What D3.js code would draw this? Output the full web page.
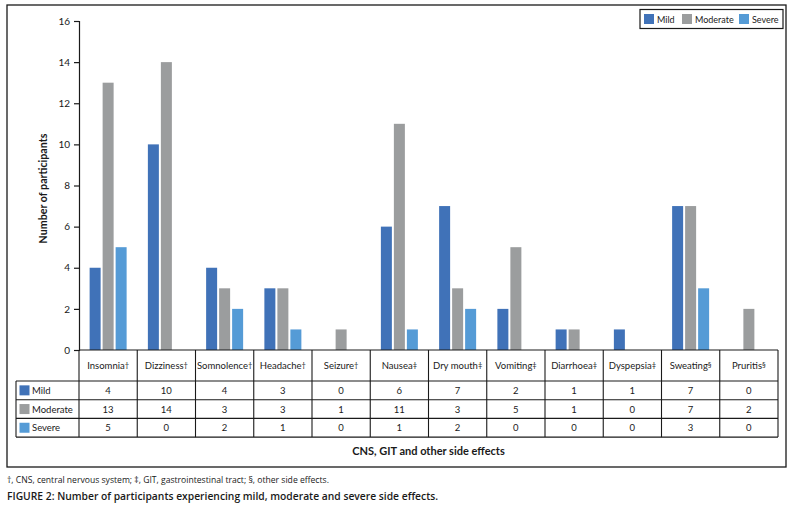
<!DOCTYPE html>
<html lang="en">
<head>
<meta charset="UTF-8">
<title>Side effects</title>
<script src="https://cdnjs.cloudflare.com/ajax/libs/d3/7.9.0/d3.min.js"></script>
<style>
  body { margin: 0; background: #fff; }
  svg { font-family: Lato, "Open Sans", sans-serif; }
</style>
</head>
<body>
<div id="chart"></div>
<script>
const categories = ["Insomnia", "Dizziness", "Somnolence", "Headache", "Seizure", "Nausea",
    "Dry mouth", "Vomiting", "Diarrhoea", "Dyspepsia", "Sweating", "Pruritis"];
const marks = ["†", "†", "†", "†", "†", "‡", "‡", "‡", "‡", "‡", "§", "§"];
const mild = [4, 10, 4, 3, 0, 6, 7, 2, 1, 1, 7, 0];
const moderate = [13, 14, 3, 3, 1, 11, 3, 5, 1, 0, 7, 2];
const severe = [5, 0, 2, 1, 0, 1, 2, 0, 0, 0, 3, 0];
const seriesNames = ["Mild", "Moderate", "Severe"];
const yTicks = [0, 2, 4, 6, 8, 10, 12, 14, 16];

const colors = { Mild: "#4072b8", Moderate: "#9b9d9e", Severe: "#559bd6" };
const series = [
    { name: "Mild", values: mild },
    { name: "Moderate", values: moderate },
    { name: "Severe", values: severe }
];

const W = 792, H = 508;
const plotLeft = 79, plotRight = 778, plotTop = 21, plotBottom = 350;
const ink = "#1a1a1a";

const svg = d3.select("#chart").append("svg")
    .attr("width", W).attr("height", H);

// outer frame
svg.append("rect")
    .attr("x", 7).attr("y", 5).attr("width", 779).attr("height", 462)
    .attr("fill", "none").attr("stroke", ink).attr("stroke-width", 1.3);

const x = d3.scaleBand().domain(categories).range([plotLeft, plotRight]);
const inner = d3.scaleBand().domain(seriesNames).range([-18.5, 18.5]).paddingInner(2 / 13);
const y = d3.scaleLinear().domain([0, 16]).range([plotBottom, plotTop]);

// bars
series.forEach(s => {
    svg.append("g").selectAll("rect")
        .data(categories.map((c, i) => ({ c, v: s.values[i] })))
        .enter().append("rect")
        .attr("x", d => x(d.c) + x.bandwidth() / 2 + inner(s.name))
        .attr("y", d => y(d.v))
        .attr("width", inner.bandwidth())
        .attr("height", d => y(0) - y(d.v))
        .attr("fill", colors[s.name]);
});

// y axis
const yAxis = svg.append("g")
    .attr("transform", `translate(${plotLeft},0)`)
    .call(d3.axisLeft(y).tickValues(yTicks).tickSize(5).tickPadding(4));
yAxis.select(".domain").attr("stroke", ink).attr("stroke-width", 1.2);
yAxis.selectAll(".tick line").attr("stroke", ink).attr("stroke-width", 1.2);
yAxis.selectAll("text").attr("fill", ink).style("font-size", "10px").style("font-family", "Lato, sans-serif");

svg.append("text")
    .attr("transform", `translate(46.5,${(plotTop + plotBottom) / 2 + 3}) rotate(-90)`)
    .attr("text-anchor", "middle")
    .attr("fill", ink)
    .style("font-size", "10.7px").style("font-weight", "bold")
    .text("Number of participants");

// data table
const rowTop = 381, rowH = 18.7, tableLeft = 16;
const tableBottom = rowTop + rowH * 3;
const grid = svg.append("g").attr("stroke", ink).attr("stroke-width", 1.1);

grid.append("line").attr("x1", plotLeft).attr("x2", plotRight).attr("y1", plotBottom).attr("y2", plotBottom);
[0, 1, 2, 3].forEach(r => {
    grid.append("line")
        .attr("x1", tableLeft).attr("x2", plotRight)
        .attr("y1", rowTop + r * rowH).attr("y2", rowTop + r * rowH);
});
grid.append("line").attr("x1", tableLeft).attr("x2", tableLeft).attr("y1", rowTop).attr("y2", tableBottom);
categories.forEach(c => {
    grid.append("line").attr("x1", x(c)).attr("x2", x(c)).attr("y1", plotBottom).attr("y2", tableBottom);
});
grid.append("line").attr("x1", plotRight).attr("x2", plotRight).attr("y1", plotBottom).attr("y2", tableBottom);

// category labels
const catText = svg.append("g").selectAll("text")
    .data(categories)
    .enter().append("text")
    .attr("x", d => x(d) + x.bandwidth() / 2)
    .attr("y", 369)
    .attr("text-anchor", "middle")
    .attr("fill", ink)
    .style("font-size", "9.5px");
catText.append("tspan").text(d => d);
catText.append("tspan")
    .attr("dy", -1.5)
    .style("font-size", "7.5px")
    .text((d, i) => marks[i]);

// table rows
series.forEach((s, r) => {
    const cy = rowTop + r * rowH + rowH / 2;
    svg.append("rect")
        .attr("x", 19.5).attr("y", cy - 5).attr("width", 10).attr("height", 10)
        .attr("fill", colors[s.name]);
    svg.append("text")
        .attr("x", 32).attr("y", cy + 3.5)
        .attr("fill", ink)
        .style("font-size", "9.5px")
        .text(s.name);
    svg.append("g").selectAll("text")
        .data(s.values)
        .enter().append("text")
        .attr("x", (d, i) => x(categories[i]) + x.bandwidth() / 2)
        .attr("y", cy + 3.5)
        .attr("text-anchor", "middle")
        .attr("fill", ink)
        .style("font-size", "9.5px")
        .text(d => d);
});

// x title
svg.append("text")
    .attr("x", (plotLeft + plotRight) / 2).attr("y", 455)
    .attr("text-anchor", "middle")
    .attr("fill", ink)
    .style("font-size", "11px").style("font-weight", "bold")
    .text("CNS, GIT and other side effects");

// legend
const legend = svg.append("g");
legend.append("rect")
    .attr("x", 640).attr("y", 9.5).attr("width", 143).attr("height", 19)
    .attr("fill", "#fff").attr("stroke", ink).attr("stroke-width", 1.2);
const legendX = [644, 682, 739];
seriesNames.forEach((n, i) => {
    legend.append("rect")
        .attr("x", legendX[i]).attr("y", 14).attr("width", 10).attr("height", 10)
        .attr("fill", colors[n]);
    legend.append("text")
        .attr("x", legendX[i] + 13).attr("y", 22.5)
        .attr("fill", ink)
        .style("font-size", "9px")
        .text(n);
});

// footnote and caption
svg.append("text")
    .attr("x", 7).attr("y", 483)
    .attr("fill", ink)
    .style("font-family", "'Open Sans', sans-serif")
    .style("font-size", "8.6px")
    .text("†, CNS, central nervous system; ‡, GIT, gastrointestinal tract; §, other side effects.");
svg.append("text")
    .attr("x", 7).attr("y", 500)
    .attr("fill", ink)
    .style("font-family", "'Open Sans', sans-serif")
    .style("font-size", "10.3px").style("font-weight", "600")
    .text("FIGURE 2: Number of participants experiencing mild, moderate and severe side effects.");
</script>
</body>
</html>
